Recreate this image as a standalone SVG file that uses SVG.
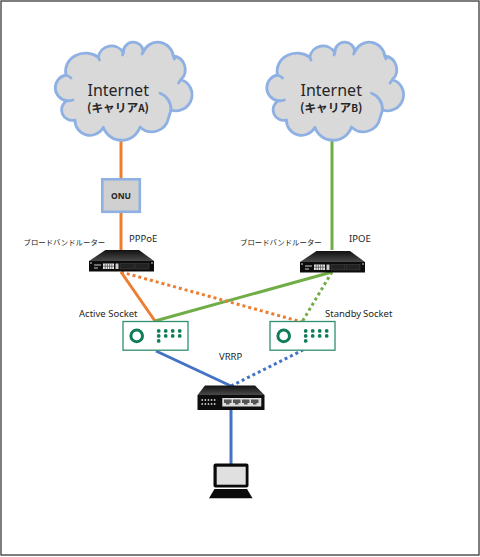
<svg xmlns="http://www.w3.org/2000/svg" width="480" height="557" viewBox="0 0 480 557">
<style>
text{font-family:"Noto Sans","Noto Sans CJK JP",sans-serif;fill:#262626}
.net{font-size:16px}
.car{font-size:11.700px;font-weight:700;font-family:"Noto Sans CJK JP","Noto Sans",sans-serif}
.sm{font-size:9.500px}
.jp{font-size:7.400px;font-family:"Noto Sans CJK JP",sans-serif}
.c{fill:#d9d9d9;stroke:#8eb0e3;stroke-width:2.800;stroke-linejoin:round;stroke-linecap:round}
.d{fill:none;stroke:#8eb0e3;stroke-width:2.800;stroke-linecap:round}
.l{fill:none;stroke-width:3}
.o{stroke:#ed7d31}.g{stroke:#70ad47}.b{stroke:#4472c4}
.dot{stroke-dasharray:3 3}
.s{fill:#fff;stroke:#2f8f6f;stroke-width:1.300}
.r{fill:none;stroke:#0e7c58;stroke-width:3}
.p{fill:#0e7c58}
</style>
<defs>
<linearGradient id="top" x1="0" y1="0" x2="0" y2="1"><stop offset="0" stop-color="#111"/><stop offset="1" stop-color="#4a4a4a"/></linearGradient>
<g id="cloud">
<path class="c" d="M66 75A20 18 0 0 1 98.300 57.300A13.500 13.500 0 0 1 123.300 52.700A10 10 0 0 1 143.300 51.700A15.700 15.700 0 0 1 173.300 56A13.700 13.700 0 0 1 181 79.500A16 16 0 0 1 171 110L168.500 118A17 17 0 0 1 140 127A19.400 19.400 0 0 1 103.300 127.300A15 15 0 0 1 75 120A10.600 10.600 0 0 1 66.700 100.700A13 13 0 0 1 66 75Z"/>
<path class="d" d="M66 75Q69 76 71 78M66.700 100.700Q70 101 73 100M160 93.300A17 17 0 0 1 171 110M181 79.500L178.500 83M173.300 56L174.500 59M123.300 52.700L122.500 55M143.300 51.700L142 54M98.300 57.300L99.500 60"/>
</g>
<g id="router">
<path fill="url(#top)" d="M16.500 0H50L65 11H0Z"/>
<rect x="0" y="11" width="65" height="10.500" fill="#0c0c0c"/>
<path d="M5 14.500h7v1h-7zM5 17.500h4v1h-4z" fill="#ccc"/>
<rect x="14" y="13.500" width="11" height="5.500" fill="#e6e6e6"/>
<path d="M16.200 13.500v5.500M18.400 13.500v5.500M20.600 13.500v5.500M22.800 13.500v5.500M14 16.200h11" stroke="#333" stroke-width=".6"/>
<rect x="26.500" y="13.500" width="3" height="5.500" fill="#ccc"/>
<rect x="31" y="13.500" width="14" height="5.500" fill="#222" stroke="#555" stroke-width=".4"/>
<rect x="46" y="13.500" width="14" height="5.500" fill="#222" stroke="#555" stroke-width=".4"/>
<circle cx="2" cy="13" r=".8" fill="#eee"/><circle cx="63" cy="13" r=".8" fill="#eee"/>
</g>
<g id="socket">
<rect class="s" x="0" y="0" width="65" height="28.700"/>
<circle class="r" cx="13.700" cy="14.400" r="5.800"/>
<g class="p"><circle cx="35.700" cy="9.400" r="1.900"/><circle cx="42.700" cy="9.400" r="1.900"/><circle cx="49.700" cy="9.400" r="1.900"/><circle cx="56.700" cy="9.400" r="1.900"/><circle cx="35.700" cy="14.400" r="1.900"/><circle cx="42.700" cy="14.400" r="1.900"/><circle cx="49.700" cy="14.400" r="1.900"/><circle cx="56.700" cy="14.400" r="1.900"/><circle cx="35.700" cy="19.400" r="1.900"/></g>
</g>
</defs>
<rect x="1" y="1" width="478" height="554" fill="#fff" stroke="#3a3a3a" stroke-width="1.300"/>
<g id="connectors">
<path class="l o" d="M121 139V179M121 212V250M121 272L155 321"/>
<path class="l g" d="M332 139V250M332 272L155 321"/>
<path class="l o dot" d="M121 272L302 322"/>
<path class="l g dot" d="M332 272L302 322"/>
<path class="l b" d="M156 351L231 386M231 410V465"/>
<path class="l b dot" d="M231 386L303 350"/>
</g>
<g id="cloud-a"><use href="#cloud"/>
<text class="net" x="87.500" y="95.500">Internet</text>
<text class="car" x="87" y="111.500">(キャリア<tspan font-size="10">A</tspan>)</text></g>
<g id="cloud-b"><use href="#cloud" x="211.500"/>
<text class="net" x="300.500" y="95.500">Internet</text>
<text class="car" x="300" y="111.500">(キャリア<tspan font-size="10">B</tspan>)</text></g>
<g id="onu">
<rect x="102.300" y="179.300" width="37.500" height="32.500" fill="#d0d0d0" stroke="#8eb0e3" stroke-width="2.600"/>
<text x="121" y="198.500" text-anchor="middle" font-size="8.500" font-weight="700">ONU</text></g>
<g id="router-a"><use href="#router" x="89" y="250"/>
<text class="jp" x="23.500" y="245">ブロードバンドルーター</text>
<text class="sm" x="129" y="242">PPPoE</text></g>
<g id="router-b"><use href="#router" x="300" y="251"/>
<text class="jp" x="240" y="245">ブロードバンドルーター</text>
<text class="sm" x="349" y="242">IPOE</text></g>
<g id="socket-a"><use href="#socket" x="123" y="321.500"/>
<text class="sm" x="79" y="316.500">Active Socket</text></g>
<g id="socket-b"><use href="#socket" x="270" y="321.500"/>
<text class="sm" x="325" y="316.500" word-spacing="-.7">Standby Socket</text></g>
<text id="vrrp" class="sm" x="219" y="360">VRRP</text>
<g id="switch">
<path fill="url(#top)" d="M205 385.500H255L264.500 395H197.500Z"/>
<rect x="197.500" y="395" width="67" height="15" fill="#0d0d0d"/>
<rect x="222.300" y="398" width="39" height="8.500" fill="#ddd"/>
<g fill="#555"><rect x="224" y="399.500" width="7.500" height="3.500"/><rect x="233" y="399.500" width="7.500" height="3.500"/><rect x="242" y="399.500" width="7.500" height="3.500"/><rect x="251" y="399.500" width="7.500" height="3.500"/></g>
<g fill="#555"><rect x="226" y="403" width="3.500" height="1.500"/><rect x="235" y="403" width="3.500" height="1.500"/><rect x="244" y="403" width="3.500" height="1.500"/><rect x="253" y="403" width="3.500" height="1.500"/></g>
<path d="M201.500 400h15M201.500 404h15" stroke="#eee" stroke-width="1.500" stroke-dasharray="1.500 1.600"/>
</g>
<g id="laptop">
<rect x="213.500" y="463.500" width="35" height="24" rx="2" fill="#0a0a0a"/>
<rect x="216.700" y="466.700" width="29" height="18" fill="#e0e0e0"/>
<path d="M214.500 489H247L252.500 498.300H209Z" fill="#0a0a0a"/>
</g>
</svg>
